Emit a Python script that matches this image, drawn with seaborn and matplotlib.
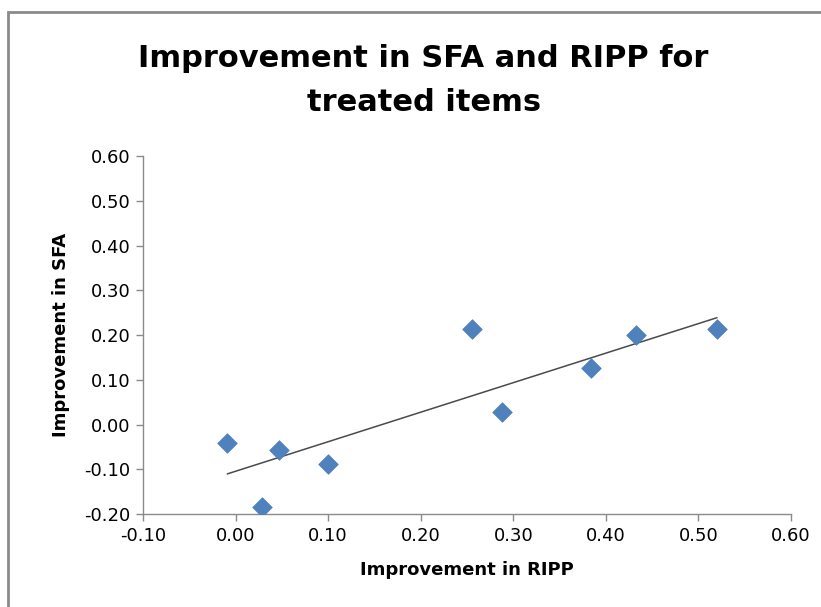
import pandas as pd
import seaborn as sns
import matplotlib.pyplot as plt
from matplotlib.patches import Rectangle

# values
ripp = [-0.009, 0.029, 0.047, 0.100, 0.255, 0.288, 0.384, 0.432, 0.520]
sfa = [-0.041, -0.184, -0.057, -0.088, 0.213, 0.028, 0.126, 0.200, 0.213]
x_ticks = [-0.10, 0.00, 0.10, 0.20, 0.30, 0.40, 0.50, 0.60]
y_ticks = [-0.20, -0.10, 0.00, 0.10, 0.20, 0.30, 0.40, 0.50, 0.60]

df = pd.DataFrame({"RIPP": ripp, "SFA": sfa})

sns.set_style("white")
plt.rcParams["font.family"] = ["DejaVu Sans"]
plt.rcParams["text.color"] = "black"

fig = plt.figure(figsize=(8.21, 6.07), dpi=100)
ax = fig.add_axes([0.1742, 0.1532, 0.7893, 0.5898])

# chart area frame (only left and top edges fall inside the picture)
fig.patches.append(Rectangle((0.0098, -0.1), 1.1, 1.08, transform=fig.transFigure,
                             fill=False, edgecolor="#8a8a8a", linewidth=2))

sns.regplot(data=df, x="RIPP", y="SFA", ax=ax, scatter=False, ci=None, truncate=True,
            line_kws={"color": "#4a4a4a", "linewidth": 1.1})
sns.scatterplot(data=df, x="RIPP", y="SFA", ax=ax, marker="D", s=100,
                color="#4f81bd", edgecolor="#4f81bd", linewidth=0.5, zorder=3)

ax.set_xlim(-0.10, 0.60)
ax.set_ylim(-0.20, 0.60)
ax.set_xticks(x_ticks)
ax.set_yticks(y_ticks)
ax.set_xticklabels([f"{v:.2f}" for v in x_ticks])
ax.set_yticklabels([f"{v:.2f}" for v in y_ticks])
ax.tick_params(axis="both", direction="out", length=5, width=1, color="#8a8a8a",
               labelsize=13, labelcolor="black", pad=4, bottom=True, left=True)

for side in ["top", "right"]:
    ax.spines[side].set_visible(False)
for side in ["left", "bottom"]:
    ax.spines[side].set_color("#8a8a8a")
    ax.spines[side].set_linewidth(1)

ax.set_xlabel("Improvement in RIPP", fontsize=13, fontweight="bold", labelpad=12, color="black")
ax.set_ylabel("Improvement in SFA", fontsize=13, fontweight="bold", labelpad=10, color="black")

fig.text(0.516, 0.868, "Improvement in SFA and RIPP for\ntreated items", ha="center",
         va="center", fontsize=22, fontweight="bold", linespacing=1.65, color="black")

plt.savefig("out.png", dpi=100)
